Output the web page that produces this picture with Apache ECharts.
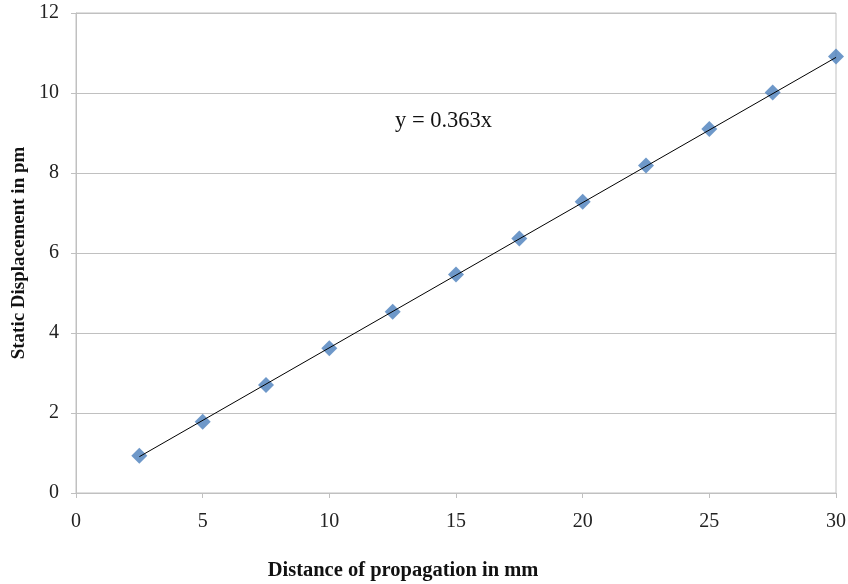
<!DOCTYPE html>
<html>
<head>
<meta charset="utf-8">
<script src="https://cdn.jsdelivr.net/npm/echarts@6/dist/echarts.min.js"></script>
<style>html,body{margin:0;padding:0;background:#fff}#c{width:848px;height:584px}</style>
</head>
<body>
<div id="c"></div>
<script>
var distances = [2.5, 5, 7.5, 10, 12.5, 15, 17.5, 20, 22.5, 25, 27.5, 30];
var displacements = [0.93, 1.78, 2.70, 3.62, 4.53, 5.46, 6.36, 7.28, 8.19, 9.10, 10.01, 10.91];
var trendX = [2.5, 30];
var trendY = [0.9075, 10.89];
var equationText = 'y = 0.363x';
var xTitle = 'Distance of propagation in mm';
var yTitle = 'Static Displacement in pm';

var chart = echarts.init(document.getElementById('c'));
var font = 'Liberation Serif, Times New Roman, serif';
var gridColor = '#c0c0c0';
chart.setOption({
  animation: false,
  backgroundColor: '#fff',
  grid: {left: 76, right: 12, top: 13, bottom: 91, show: true, borderColor: gridColor, borderWidth: 1, containLabel: false, outerBoundsMode: 'none'},
  xAxis: {
    type: 'value', min: 0, max: 30, interval: 5,
    axisLine: {show: true, lineStyle: {color: gridColor, width: 1}},
    axisTick: {show: true, length: 5, inside: false, lineStyle: {color: gridColor}},
    splitLine: {show: false},
    axisLabel: {color: '#222', fontFamily: font, fontSize: 20, margin: 19}
  },
  yAxis: {
    type: 'value', min: 0, max: 12, interval: 2,
    axisLine: {show: true, lineStyle: {color: gridColor, width: 1}},
    axisTick: {show: true, length: 5, inside: false, lineStyle: {color: gridColor}},
    splitLine: {show: true, lineStyle: {color: gridColor, width: 1}},
    axisLabel: {color: '#222', fontFamily: font, fontSize: 20, margin: 17},
    name: yTitle, nameLocation: 'middle', nameGap: 39, nameRotate: 90,
    nameTextStyle: {color: '#111', fontFamily: font, fontSize: 19, fontWeight: 'bold'}
  },
  series: [
    {
      type: 'line', data: trendX.map(function(x, i){ return [x, trendY[i]]; }),
      symbol: 'none', lineStyle: {color: '#000', width: 1}, z: 3, silent: true
    },
    {
      type: 'scatter', data: distances.map(function(x, i){ return [x, displacements[i]]; }),
      symbol: 'diamond', symbolSize: 16,
      itemStyle: {color: '#4a7ebb'}, z: 2
    }
  ],
  graphic: [{
    type: 'text', x: 395, y: 121,
    style: {text: equationText, font: '22.5px ' + font, fill: '#111', verticalAlign: 'middle'}
  }, {
    type: 'text', x: 403, y: 571,
    style: {text: xTitle, font: 'bold 20.5px ' + font, fill: '#111', align: 'center', verticalAlign: 'middle'}
  }]
});
</script>
</body>
</html>
